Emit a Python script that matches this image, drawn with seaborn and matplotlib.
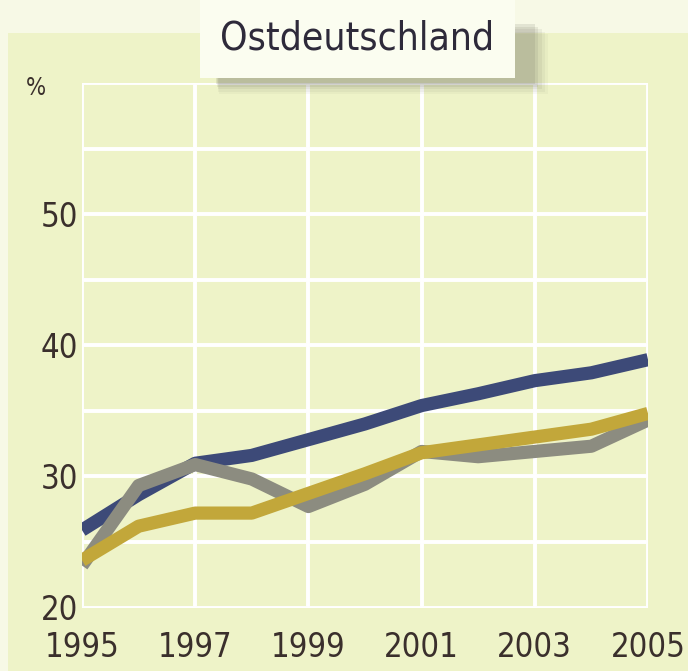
import matplotlib
matplotlib.use("Agg")
import matplotlib.pyplot as plt
import matplotlib.font_manager as fm
import seaborn as sns
import pandas as pd
from matplotlib.patches import Rectangle

years = list(range(1995, 2006))
blue = [25.9, 28.6, 31.0, 31.6, 32.8, 34.0, 35.4, 36.3, 37.3, 37.9, 38.9]
gold = [23.6, 26.2, 27.2, 27.2, 28.7, 30.2, 31.8, 32.4, 33.0, 33.6, 34.8]
gray = [23.2, 29.3, 30.9, 29.8, 27.7, 29.4, 31.9, 31.5, 31.9, 32.3, 34.3]
series_names = ["A", "C", "B"]
x_ticks = [1995, 1997, 1999, 2001, 2003, 2005]
y_ticks = [20, 30, 40, 50]
title = "Ostdeutschland"

df = pd.DataFrame({
    "year": years * 3,
    "value": blue + gray + gold,
    "series": [series_names[0]] * 11 + [series_names[1]] * 11 + [series_names[2]] * 11,
})
palette = {"A": "#3d4a78", "B": "#c2a73a", "C": "#8c8c80"}

sns.set_theme(style="white")

# find a condensed / narrow font if one is installed
cond = None
for f in fm.fontManager.ttflist:
    n = f.name.lower()
    fn = f.fname.lower()
    if ("narrow" in n or "condensed" in n or "condensed" in fn or "narrow" in fn) and \
            f.style == "normal" and f.weight in (400, "normal", "regular") and "bold" not in fn:
        cond = f.fname
        break
if cond is None:
    for f in fm.fontManager.ttflist:
        if str(f.stretch) in ("condensed", "semi-condensed") and f.style == "normal":
            cond = f.fname
            break

if cond:
    def fp(size):
        return fm.FontProperties(fname=cond, size=size)
    scale = 1.0
else:
    def fp(size):
        return fm.FontProperties(family=["Roboto", "DejaVu Sans"], size=size)
    scale = 0.8

plt.rcParams["font.family"] = ["Roboto", "DejaVu Sans"]
txt = "#3a2f2c"
panel = "#eef3c8"

fig = plt.figure(figsize=(6.88, 6.71), dpi=100)
fig.patch.set_facecolor("#f7f9e6")
fig.add_artist(Rectangle((8 / 688, 0), 1, (671 - 33) / 671, transform=fig.transFigure,
                         facecolor=panel, edgecolor="none", zorder=0))

ax = fig.add_axes([82 / 688, (671 - 607.5) / 671, (648 - 82) / 688, (607.5 - 83) / 671])
ax.set_facecolor(panel)

sns.lineplot(data=df, x="year", y="value", hue="series", palette=palette, ax=ax,
             linewidth=9.5, legend=False, zorder=3)
for ln in ax.lines:
    ln.set_solid_capstyle("butt")
    ln.set_solid_joinstyle("round")

all_y = [20, 25, 30, 35, 40, 45, 50, 55, 60]
ax.set_xlim(1995, 2005)
ax.set_ylim(20, 60)
ax.set_yticks(all_y)
ax.set_yticklabels([str(v) if v in y_ticks else "" for v in all_y])
ax.set_xticks(x_ticks)
ax.set_xticklabels([str(v) for v in x_ticks])
ax.grid(True, color="white", linewidth=2.8, zorder=1)
ax.set_axisbelow(True)
for s in ax.spines.values():
    s.set_visible(False)
ax.tick_params(axis="both", length=0, labelcolor=txt)
ax.tick_params(axis="x", pad=17)
ax.tick_params(axis="y", pad=3)
for lab in ax.get_xticklabels() + ax.get_yticklabels():
    lab.set_fontproperties(fp(23.5 * scale))
ax.set_xlabel("")
ax.set_ylabel("")

fig.text(36 / 688, 1 - 88 / 671, "%", fontproperties=fp(17 * scale), color=txt,
         ha="center", va="center")

# title box with shadow
for i, a in enumerate([0.05, 0.07, 0.09, 0.12, 0.15]):
    d = 14 - i * 2.5
    fig.add_artist(Rectangle(((215 + d * 0.3) / 688, 1 - (80 + d) / 671), (315 + d) / 688, 60 / 671,
                             transform=fig.transFigure, facecolor="#707060", alpha=a,
                             edgecolor="none", zorder=4))
fig.add_artist(Rectangle((200 / 688, 1 - 78 / 671), 315 / 688, 78 / 671, transform=fig.transFigure,
                         facecolor="#fbfdf0", edgecolor="none", zorder=5))
fig.text(357 / 688, 1 - 38 / 671, title, fontproperties=fp(28 * scale), color="#2e2a3a",
         ha="center", va="center", zorder=6)

fig.savefig("out.png", dpi=100, facecolor=fig.get_facecolor())
